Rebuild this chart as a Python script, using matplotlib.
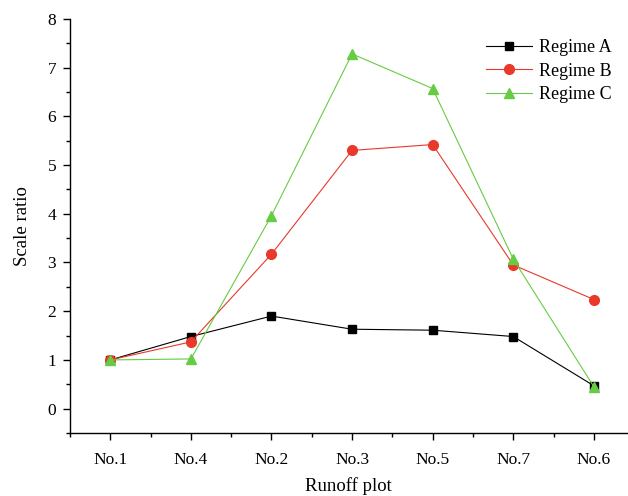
import numpy as np
import matplotlib.pyplot as plt
from matplotlib.ticker import MultipleLocator

plt.rcParams['font.family'] = ['Liberation Serif', 'DejaVu Serif']
plt.rcParams['mathtext.fontset'] = 'stix'

plots = ["No.1", "No.4", "No.2", "No.3", "No.5", "No.7", "No.6"]
regime_a = [1.0, 1.48, 1.90, 1.63, 1.61, 1.48, 0.47]
regime_b = [1.0, 1.37, 3.17, 5.30, 5.42, 2.95, 2.24]
regime_c = [1.0, 1.02, 3.96, 7.28, 6.57, 3.07, 0.45]

x = np.arange(1, len(plots) + 1)

fig = plt.figure(figsize=(6.28, 4.96), dpi=100)
ax = fig.add_axes([0.1115, 0.127, 0.888, 0.835])

ax.plot(x, regime_a, color="black", marker="s", markersize=6, linewidth=0.8, label="Regime A")
ax.plot(x, regime_b, color="#e8392b", marker="o", markersize=7, linewidth=0.8, label="Regime B")
ax.plot(x, regime_c, color="#66cc44", marker="^", markersize=7, linewidth=0.8, label="Regime C")

ax.set_xlim(0.5, 7.42)
ax.set_ylim(-0.5, 8)
ax.set_xticks(x)
ax.set_xticklabels(plots)
ax.set_xticks(x - 0.5, minor=True)
ax.yaxis.set_major_locator(MultipleLocator(1))
ax.yaxis.set_minor_locator(MultipleLocator(0.5))

for side in ["top", "right"]:
    ax.spines[side].set_visible(False)
for side in ["left", "bottom"]:
    ax.spines[side].set_linewidth(1.0)

ax.tick_params(which="major", direction="out", length=5, width=1, labelsize=12.5)
ax.tick_params(which="minor", direction="out", length=3, width=1)
ax.tick_params(axis="x", which="major", pad=9)
ax.tick_params(axis="y", which="major", pad=5)

ax.set_xlabel("Runoff plot", fontsize=13.5, labelpad=6)
ax.set_ylabel("Scale ratio", fontsize=13.5, labelpad=12)

ax.legend(loc="upper right", frameon=False, fontsize=13, handlelength=2.6,
          bbox_to_anchor=(1.0, 0.99), labelspacing=0.35, handletextpad=0.35)

fig.savefig("out.png", dpi=100)
